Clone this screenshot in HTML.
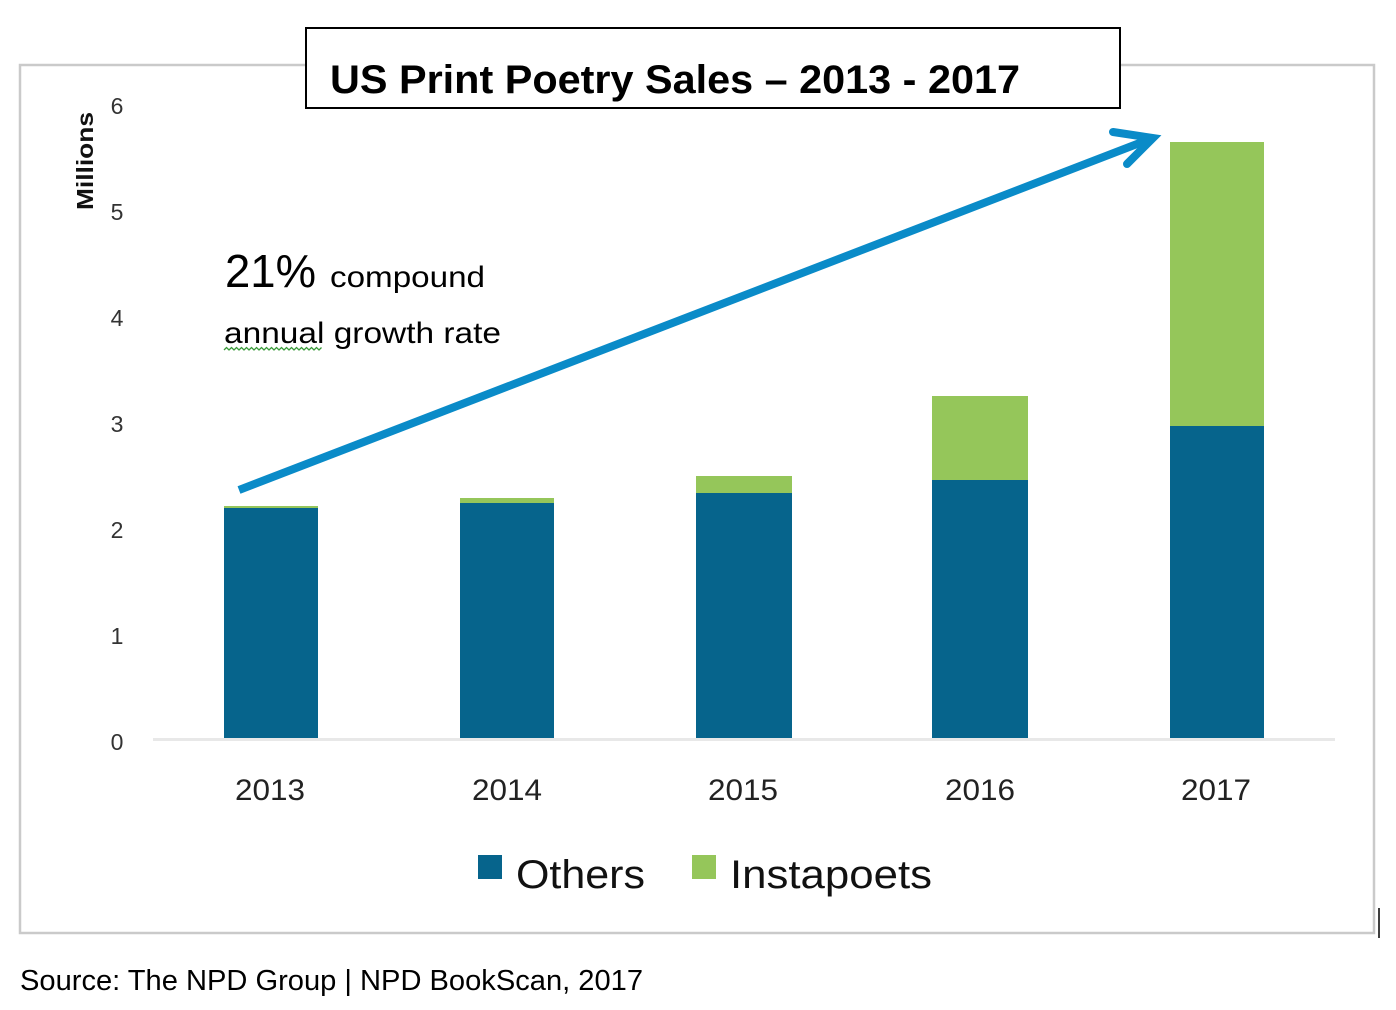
<!DOCTYPE html>
<html>
<head>
<meta charset="utf-8">
<style>
html,body{margin:0;padding:0;background:#fff;}
svg{display:block;}
text{font-family:"Liberation Sans",sans-serif;}
</style>
</head>
<body>
<svg width="1396" height="1010" viewBox="0 0 1396 1010" xmlns="http://www.w3.org/2000/svg">
  <rect x="0" y="0" width="1396" height="1010" fill="#fff"/>
  <!-- chart border -->
  <rect x="20" y="65" width="1354" height="868" fill="#fff" stroke="#cacaca" stroke-width="2.5"/>
  <!-- cursor -->
  <line x1="1379" y1="908" x2="1379" y2="938" stroke="#000" stroke-width="1.5"/>

  <!-- y axis labels -->
  <g font-size="23" fill="#333" text-anchor="middle">
    <text x="117" y="114">6</text>
    <text x="117" y="220">5</text>
    <text x="117" y="326">4</text>
    <text x="117" y="432">3</text>
    <text x="117" y="538">2</text>
    <text x="117" y="644">1</text>
    <text x="117" y="750">0</text>
  </g>
  <text transform="translate(93,161) rotate(-90)" font-size="23" font-weight="bold" fill="#111" text-anchor="middle" textLength="98" lengthAdjust="spacingAndGlyphs">Millions</text>

  <!-- axis baseline -->
  <line x1="153" y1="739.5" x2="1335" y2="739.5" stroke="#e8e8e8" stroke-width="3"/>

  <!-- bars -->
  <g>
    <rect x="224" y="508" width="94" height="230" fill="#06648c"/>
    <rect x="224" y="506" width="94" height="2" fill="#95c65a"/>
    <rect x="460" y="503" width="94" height="235" fill="#06648c"/>
    <rect x="460" y="498" width="94" height="5" fill="#95c65a"/>
    <rect x="696" y="493" width="96" height="245" fill="#06648c"/>
    <rect x="696" y="476" width="96" height="17" fill="#95c65a"/>
    <rect x="932" y="480" width="96" height="258" fill="#06648c"/>
    <rect x="932" y="396" width="96" height="84" fill="#95c65a"/>
    <rect x="1170" y="426" width="94" height="312" fill="#06648c"/>
    <rect x="1170" y="142" width="94" height="284" fill="#95c65a"/>
  </g>

  <!-- x labels -->
  <g font-size="30" fill="#222" text-anchor="middle">
    <text x="270" y="800" textLength="70" lengthAdjust="spacingAndGlyphs">2013</text>
    <text x="507" y="800" textLength="70" lengthAdjust="spacingAndGlyphs">2014</text>
    <text x="743" y="800" textLength="70" lengthAdjust="spacingAndGlyphs">2015</text>
    <text x="980" y="800" textLength="70" lengthAdjust="spacingAndGlyphs">2016</text>
    <text x="1216" y="800" textLength="70" lengthAdjust="spacingAndGlyphs">2017</text>
  </g>

  <!-- legend -->
  <rect x="478" y="855" width="24" height="24" fill="#06648c"/>
  <text x="516" y="888" font-size="40" fill="#111" textLength="129" lengthAdjust="spacingAndGlyphs">Others</text>
  <rect x="692" y="855" width="24" height="24" fill="#95c65a"/>
  <text x="730" y="888" font-size="40" fill="#111" textLength="202" lengthAdjust="spacingAndGlyphs">Instapoets</text>

  <!-- annotation -->
  <text x="225" y="287" font-size="46" fill="#000" textLength="91" lengthAdjust="spacingAndGlyphs">21%</text>
  <text x="330" y="287" font-size="30" fill="#000" textLength="155" lengthAdjust="spacingAndGlyphs">compound</text>
  <text x="224" y="343" font-size="30" fill="#000" textLength="277" lengthAdjust="spacingAndGlyphs">annual growth rate</text>
  <path d="M224 350 l2.5 -2.5 l2.5 2.5 l2.5 -2.5 l2.5 2.5 l2.5 -2.5 l2.5 2.5 l2.5 -2.5 l2.5 2.5 l2.5 -2.5 l2.5 2.5 l2.5 -2.5 l2.5 2.5 l2.5 -2.5 l2.5 2.5 l2.5 -2.5 l2.5 2.5 l2.5 -2.5 l2.5 2.5 l2.5 -2.5 l2.5 2.5 l2.5 -2.5 l2.5 2.5 l2.5 -2.5 l2.5 2.5 l2.5 -2.5 l2.5 2.5 l2.5 -2.5 l2.5 2.5 l2.5 -2.5 l2.5 2.5 l2.5 -2.5 l2.5 2.5 l2.5 -2.5 l2.5 2.5 l2.5 -2.5 l2.5 2.5 l2.5 -2.5 l2.5 2.5 l2.5 -2.5" fill="none" stroke="#3a9a3a" stroke-width="1.3"/>

  <!-- arrow -->
  <g stroke="#0a8bc8" fill="none">
    <line x1="239" y1="490" x2="1150" y2="139" stroke-width="8"/>
    <polyline points="1113,132 1153,138 1127,164" stroke-width="8" stroke-linecap="round" stroke-linejoin="miter"/>
  </g>

  <!-- title box -->
  <rect x="306" y="28" width="814" height="80" fill="#fff" stroke="#000" stroke-width="2"/>
  <text x="330" y="93" font-size="40" font-weight="bold" fill="#000" textLength="690" lengthAdjust="spacingAndGlyphs">US Print Poetry Sales – 2013 - 2017</text>

  <!-- source -->
  <text x="20" y="990" font-size="29" fill="#000" textLength="623" lengthAdjust="spacingAndGlyphs">Source: The NPD Group | NPD BookScan, 2017</text>
</svg>
</body>
</html>
